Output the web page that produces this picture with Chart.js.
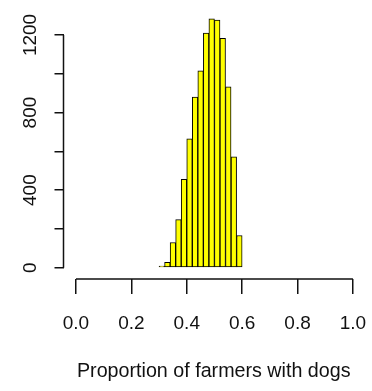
<!DOCTYPE html>
<html lang="en">
<head>
<meta charset="UTF-8"/>
<title>Proportion of farmers with dogs</title>
<script src="https://cdn.jsdelivr.net/npm/chart.js@4/dist/chart.umd.min.js"></script>
<style>
  *{box-sizing:border-box;margin:0;padding:0}
  html,body{background:#fff;width:372px;height:391px;overflow:hidden}
  #wrap{position:relative;width:372px;height:391px}
</style>
</head>
<body>
<div id="wrap"><canvas id="hist" width="372" height="391"></canvas></div>
<script>
// histogram breaks and counts
const BREAKS = [0.30,0.32,0.34,0.36,0.38,0.40,0.42,0.44,0.46,0.48,0.50,0.52,0.54,0.56,0.58,0.60];
const COUNTS = [8,28,130,248,455,665,880,1015,1210,1283,1277,1183,932,572,166];
const X_TICKS  = [0,0.2,0.4,0.6,0.8,1.0];
const X_LABELS = ['0.0','0.2','0.4','0.6','0.8','1.0'];
const Y_TICKS  = [0,200,400,600,800,1000,1200];
const Y_LABELS = ['0','','400','','800','','1200'];  // R drops the crowded ones
const X_TITLE  = 'Proportion of farmers with dogs';

const fam = "'Liberation Sans', Arial, sans-serif";
const font = {family:fam, size:19};
const ink = '#111';

const bars = COUNTS.map((c,i)=>({x:(BREAKS[i]+BREAKS[i+1])/2, y:c}));

// R style axis lines: only from first to last tick
const rAxes = {
  id:'rAxes',
  afterDraw(chart){
    const {ctx, chartArea:a, scales:{x,y}} = chart;
    ctx.save();
    ctx.strokeStyle = ink; ctx.lineWidth = 1.5;
    ctx.beginPath();
    ctx.moveTo(x.getPixelForValue(X_TICKS[0]), a.bottom);
    ctx.lineTo(x.getPixelForValue(X_TICKS[X_TICKS.length-1]), a.bottom);
    ctx.moveTo(a.left, y.getPixelForValue(Y_TICKS[0]));
    ctx.lineTo(a.left, y.getPixelForValue(Y_TICKS[Y_TICKS.length-1]));
    ctx.stroke();
    ctx.restore();
  }
};

new Chart(document.getElementById('hist'),{
  type:'bar',
  data:{datasets:[{
    data:bars,
    backgroundColor:'#ffff00',borderColor:'#000',borderWidth:1,borderSkipped:false,
    barPercentage:1,categoryPercentage:1
  }]},
  options:{
    responsive:false,animation:false,
    layout:{padding:{top:8,right:8,left:0,bottom:0}},
    plugins:{legend:{display:false},tooltip:{enabled:false}},
    scales:{
      x:{type:'linear',min:-0.045,max:1.04,offset:false,
        afterBuildTicks:s=>{s.ticks=X_TICKS.map(v=>({value:v}));},
        afterFit:s=>{s.height=112;s.paddingLeft=0;s.paddingRight=0;},
        ticks:{autoSkip:false,maxRotation:0,padding:18,color:ink,font,callback:(v,i)=>X_LABELS[i]},
        grid:{offset:false,drawOnChartArea:false,drawTicks:true,tickLength:15,color:ink,lineWidth:1.5},
        border:{display:false},
        title:{display:true,text:X_TITLE,color:ink,font:{family:fam,size:19.7},padding:{top:0,bottom:8}}},
      y:{type:'linear',min:-58.3,max:1339,
        afterBuildTicks:s=>{s.ticks=Y_TICKS.map(v=>({value:v}));},
        afterFit:s=>{s.width=63.5;s.paddingTop=0;s.paddingBottom=0;},
        ticks:{autoSkip:false,minRotation:90,maxRotation:90,crossAlign:'center',padding:3,color:ink,font,
          callback:(v,i)=>Y_LABELS[i]},
        grid:{drawOnChartArea:false,drawTicks:true,tickLength:9,color:ink,lineWidth:1.5},
        border:{display:false}}
    }
  },
  plugins:[rAxes]
});
</script>
</body>
</html>
